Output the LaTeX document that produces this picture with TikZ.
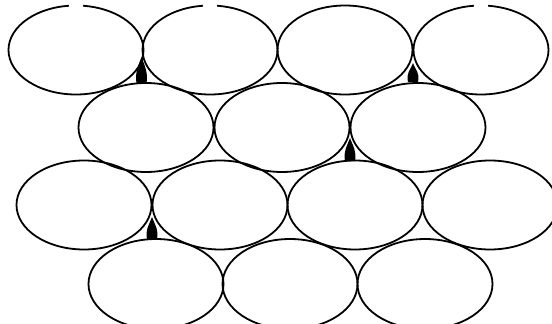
\documentclass[tikz,border=0pt]{standalone}
\usetikzlibrary{calc}
\begin{document}
\begin{tikzpicture}[x=1pt,y=-1pt,
  ov/.style={line width=1.8pt},
  blob/.style={fill=black}]
\useasboundingbox (0,0) rectangle (552,324);
\clip (0,0) rectangle (552,324);
% row 1
\coordinate (a1) at (76,50);
\coordinate (a2) at (210,50);
\coordinate (a3) at (345,50);
\coordinate (a4) at (481,50);
% row 2
\coordinate (b1) at (146,127.5);
\coordinate (b2) at (282,127.5);
\coordinate (b3) at (418,127.5);
% row 3
\coordinate (c1) at (84,205);
\coordinate (c2) at (220,205);
\coordinate (c3) at (355,205);
\coordinate (c4) at (490,205);
% row 4
\coordinate (d1) at (156,284);
\coordinate (d2) at (290,284);
\coordinate (d3) at (425,284);
% top row, with small gaps at the top of three ellipses
\foreach \c in {a1,a2,a4}
  \draw[ov] ($(\c)+(96:67.5pt and 44.5pt)$) arc[start angle=96,end angle=444,x radius=67.5pt,y radius=44.5pt];
\draw[ov] (a3) ellipse[x radius=67.5pt,y radius=44.5pt];
\foreach \c in {b1,b2,b3,c1,c2,c3,c4}
  \draw[ov] (\c) ellipse[x radius=67.5pt,y radius=44.5pt];
\foreach \c in {d1,d2,d3}
  \draw[ov] (\c) ellipse[x radius=67.5pt,y radius=45pt];
% filled wedges
\foreach \x/\t/\b in {141.5/57/83, 413/63/82, 350/138/161, 152/217/239}
  \fill[blob] (\x,\t) .. controls (\x-3,\t+8) and (\x-7,\b-9) .. (\x-5,\b)
     -- (\x+5,\b) .. controls (\x+7,\b-9) and (\x+3,\t+8) .. cycle;
\end{tikzpicture}
\end{document}
